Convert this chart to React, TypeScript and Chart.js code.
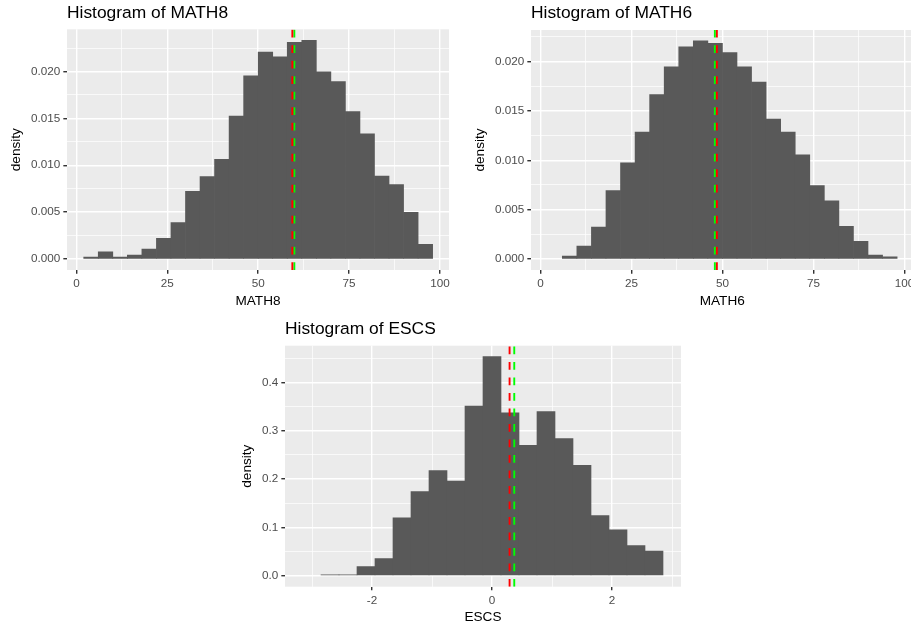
import { useEffect, useRef } from "react";
import { Chart, registerables } from "chart.js";

Chart.register(...registerables);

const FONT = "'Liberation Sans', Arial, Helvetica, sans-serif";
const TITLE_SIZE = 17.4;
const AXIS_TITLE_SIZE = 13.6;
const TICK_SIZE = 11.7;

// ---------- MATH8 (bin width 4) ----------
const math8Bins = [4, 8, 12, 16, 20, 24, 28, 32, 36, 40, 44, 48, 52, 56, 60, 64, 68, 72, 76, 80, 84, 88, 92, 96];
const math8Density = [
  0.0002, 0.00076, 0.0002, 0.00042, 0.00107, 0.0022, 0.00388, 0.00722, 0.00879, 0.01062, 0.01525, 0.01953,
  0.02207, 0.02157, 0.02312, 0.02333, 0.01996, 0.01893, 0.01573, 0.01336, 0.00886, 0.00795, 0.00497, 0.00157,
];
const math8Mean = 59.4;
const math8Median = 59.95;

// ---------- MATH6 (bin width 4) ----------
const math6Bins = [8, 12, 16, 20, 24, 28, 32, 36, 40, 44, 48, 52, 56, 60, 64, 68, 72, 76, 80, 84, 88, 92, 96];
const math6Density = [
  0.0003, 0.00131, 0.00325, 0.00693, 0.00975, 0.01286, 0.01665, 0.01946, 0.02147, 0.02208, 0.02184, 0.0209,
  0.01946, 0.01792, 0.01417, 0.01286, 0.01055, 0.00744, 0.0059, 0.00332, 0.0018, 0.0004, 0.00022,
];
const math6Mean = 48.47;
const math6Median = 47.92;

// ---------- ESCS (bin width 0.3) ----------
const escsBins = [-2.7, -2.4, -2.1, -1.8, -1.5, -1.2, -0.9, -0.6, -0.3, 0, 0.3, 0.6, 0.9, 1.2, 1.5, 1.8, 2.1, 2.4, 2.7];
const escsDensity = [
  0.002, 0.002, 0.0192, 0.0357, 0.12, 0.174, 0.2175, 0.1955, 0.351, 0.453, 0.337, 0.2696, 0.3396, 0.2834,
  0.2285, 0.1242, 0.0947, 0.0624, 0.0508,
];
const escsMean = 0.293;
const escsMedian = 0.371;

// ---------- axis ticks ----------
const scoreTicks = [0, 25, 50, 75, 100];
const scoreTickLabels = ["0", "25", "50", "75", "100"];
const scoreMinorTicks = [12.5, 37.5, 62.5, 87.5];

const scoreDensityTicks = [0, 0.005, 0.01, 0.015, 0.02];
const scoreDensityLabels = ["0.000", "0.005", "0.010", "0.015", "0.020"];
const scoreDensityMinor = [0.0025, 0.0075, 0.0125, 0.0175, 0.0225];

const escsTicks = [-2, 0, 2];
const escsTickLabels = ["-2", "0", "2"];
const escsMinorTicks = [-3, -1, 1, 3];

const escsDensityTicks = [0, 0.1, 0.2, 0.3, 0.4];
const escsDensityLabels = ["0.0", "0.1", "0.2", "0.3", "0.4"];
const escsDensityMinor = [0.05, 0.15, 0.25, 0.35, 0.45];

type TickDef = { value: number; isMajor: boolean; text: string };

type Panel = {
  id: string;
  title: string;
  xTitle: string;
  bins: number[];
  density: number[];
  meanValue: number;
  medianValue: number;
  xMin: number;
  xMax: number;
  xMajor: number[];
  xLabels: string[];
  xMinor: number[];
  yMajor: number[];
  yLabels: string[];
  yMinor: number[];
  box: { left: number; top: number; width: number; height: number };
  area: { left: number; top: number; right: number; bottom: number };
  titleBaseline: number;
  yTitleCenter: number;
  xTitleBaseline: number;
};

const panels: Panel[] = [
  {
    id: "math8",
    title: "Histogram of MATH8",
    xTitle: "MATH8",
    bins: math8Bins,
    density: math8Density,
    meanValue: math8Mean,
    medianValue: math8Median,
    xMin: -2.6,
    xMax: 102.5,
    xMajor: scoreTicks,
    xLabels: scoreTickLabels,
    xMinor: scoreMinorTicks,
    yMajor: scoreDensityTicks,
    yLabels: scoreDensityLabels,
    yMinor: scoreDensityMinor,
    box: { left: 0, top: 0, width: 460, height: 310 },
    area: { left: 67, top: 29.3, right: 449, bottom: 270 },
    titleBaseline: 19,
    yTitleCenter: 17.8,
    xTitleBaseline: 306.3,
  },
  {
    id: "math6",
    title: "Histogram of MATH6",
    xTitle: "MATH6",
    bins: math6Bins,
    density: math6Density,
    meanValue: math6Mean,
    medianValue: math6Median,
    xMin: -2.6,
    xMax: 102.5,
    xMajor: scoreTicks,
    xLabels: scoreTickLabels,
    xMinor: scoreMinorTicks,
    yMajor: scoreDensityTicks,
    yLabels: scoreDensityLabels,
    yMinor: scoreDensityMinor,
    box: { left: 460, top: 0, width: 480, height: 310 },
    area: { left: 71, top: 30, right: 453.5, bottom: 270 },
    titleBaseline: 19,
    yTitleCenter: 21.4,
    xTitleBaseline: 306.3,
  },
  {
    id: "escs",
    title: "Histogram of ESCS",
    xTitle: "ESCS",
    bins: escsBins,
    density: escsDensity,
    meanValue: escsMean,
    medianValue: escsMedian,
    xMin: -3.45,
    xMax: 3.15,
    xMajor: escsTicks,
    xLabels: escsTickLabels,
    xMinor: escsMinorTicks,
    yMajor: escsDensityTicks,
    yLabels: escsDensityLabels,
    yMinor: escsDensityMinor,
    box: { left: 230, top: 310, width: 460, height: 318 },
    area: { left: 55, top: 35.7, right: 451, bottom: 276.7 },
    titleBaseline: 25,
    yTitleCenter: 18.6,
    xTitleBaseline: 312.3,
  },
];

function buildTicks(major: number[], labels: string[], minor: number[]): TickDef[] {
  const list: TickDef[] = major
    .map((v, i) => ({ value: v, isMajor: true, text: labels[i] }))
    .concat(minor.map((v) => ({ value: v, isMajor: false, text: "" })));
  return list.sort((a, b) => a.value - b.value);
}

// grey panel behind the grid
const panelBackground = {
  id: "panelBackground",
  beforeDraw(chart: any) {
    const { ctx, chartArea: a } = chart;
    ctx.save();
    ctx.fillStyle = "#EBEBEB";
    ctx.fillRect(a.left, a.top, a.right - a.left, a.bottom - a.top);
    ctx.restore();
  },
};

function gridOptions() {
  return {
    offset: false,
    color: "#FFFFFF",
    lineWidth: (ctx: any) => (ctx.tick && ctx.tick.isMajor ? 1.42 : 0.71),
    drawTicks: true,
    tickLength: 3.67,
    tickWidth: 1.42,
    tickColor: (ctx: any) => (ctx.tick && ctx.tick.isMajor ? "#333333" : "rgba(0,0,0,0)"),
  };
}

function tickOptions() {
  return {
    autoSkip: false,
    maxRotation: 0,
    minRotation: 0,
    padding: 3,
    color: "#4D4D4D",
    font: { family: FONT, size: TICK_SIZE },
    callback: (_v: any, i: number, ticks: any[]) => (ticks[i] && ticks[i].text) || "",
  };
}

function buildConfig(p: Panel): any {
  const peak = Math.max(...p.density);
  const yMin = -0.05 * peak;
  const yMax = 1.05 * peak;
  const xTicks = buildTicks(p.xMajor, p.xLabels, p.xMinor);
  const yTicks = buildTicks(p.yMajor, p.yLabels, p.yMinor);

  const titlePadTop = p.titleBaseline - 0.3465 * TITLE_SIZE - 0.6 * TITLE_SIZE;
  const titlePadBottom = p.area.top - titlePadTop - 1.2 * TITLE_SIZE;
  const yTitlePadTop = p.yTitleCenter - 0.087 * AXIS_TITLE_SIZE - 0.6 * AXIS_TITLE_SIZE;
  const xTitlePadBottom =
    p.box.height - (p.xTitleBaseline - 0.3465 * AXIS_TITLE_SIZE) - 0.6 * AXIS_TITLE_SIZE;

  const vline = (value: number, color: string, order: number) => ({
    type: "line",
    data: [
      { x: value, y: yMin },
      { x: value, y: yMax },
    ],
    borderColor: color,
    borderWidth: 1.9,
    borderDash: [7.75, 7.75],
    pointRadius: 0,
    pointHoverRadius: 0,
    fill: false,
    order,
  });

  return {
    type: "bar",
    data: {
      datasets: [
        vline(p.meanValue, "#FF0000", 0),
        vline(p.medianValue, "#00FF00", 1),
        {
          type: "bar",
          data: p.bins.map((b, i) => ({ x: b, y: p.density[i] })),
          backgroundColor: "#595959",
          borderWidth: 0,
          barPercentage: 1,
          categoryPercentage: 1,
          order: 2,
        },
      ],
    },
    options: {
      animation: false,
      responsive: false,
      devicePixelRatio: 1,
      events: [],
      layout: {
        padding: { left: 0, top: 0, right: p.box.width - p.area.right, bottom: 0 },
      },
      plugins: {
        legend: { display: false },
        tooltip: { enabled: false },
        title: {
          display: true,
          text: p.title,
          align: "start",
          fullSize: false,
          color: "#000000",
          font: { family: FONT, size: TITLE_SIZE, weight: "normal", lineHeight: 1.2 },
          padding: { top: titlePadTop, bottom: titlePadBottom },
        },
      },
      scales: {
        x: {
          type: "linear",
          min: p.xMin,
          max: p.xMax,
          bounds: "data",
          offset: false,
          afterBuildTicks: (s: any) => {
            s.ticks = xTicks.map((t) => ({ ...t }));
          },
          afterFit: (s: any) => {
            s.height = p.box.height - p.area.bottom;
          },
          ticks: tickOptions(),
          grid: gridOptions(),
          border: { display: false },
          title: {
            display: true,
            text: p.xTitle,
            color: "#000000",
            font: { family: FONT, size: AXIS_TITLE_SIZE, lineHeight: 1.2 },
            padding: { top: 0, bottom: xTitlePadBottom },
          },
        },
        y: {
          type: "linear",
          min: yMin,
          max: yMax,
          bounds: "data",
          afterBuildTicks: (s: any) => {
            s.ticks = yTicks.map((t) => ({ ...t }));
          },
          afterFit: (s: any) => {
            s.width = p.area.left;
          },
          ticks: tickOptions(),
          grid: gridOptions(),
          border: { display: false },
          title: {
            display: true,
            text: "density",
            color: "#000000",
            font: { family: FONT, size: AXIS_TITLE_SIZE, lineHeight: 1.2 },
            padding: { top: yTitlePadTop, bottom: 0 },
          },
        },
      },
    },
    plugins: [panelBackground],
  };
}

function HistogramPanel({ panel }: { panel: Panel }) {
  const ref = useRef<HTMLCanvasElement>(null);
  useEffect(() => {
    if (!ref.current) return;
    const chart = new Chart(ref.current, buildConfig(panel));
    return () => chart.destroy();
  }, [panel]);
  const { box } = panel;
  return (
    <canvas
      ref={ref}
      width={box.width}
      height={box.height}
      style={{
        position: "absolute",
        left: box.left,
        top: box.top,
        width: box.width,
        height: box.height,
        display: "block",
      }}
    />
  );
}

export default function App() {
  return (
    <div
      style={{
        position: "fixed",
        left: 0,
        top: 0,
        width: 911,
        height: 628,
        overflow: "hidden",
        background: "#FFFFFF",
      }}
    >
      {panels.map((p) => (
        <HistogramPanel key={p.id} panel={p} />
      ))}
    </div>
  );
}
